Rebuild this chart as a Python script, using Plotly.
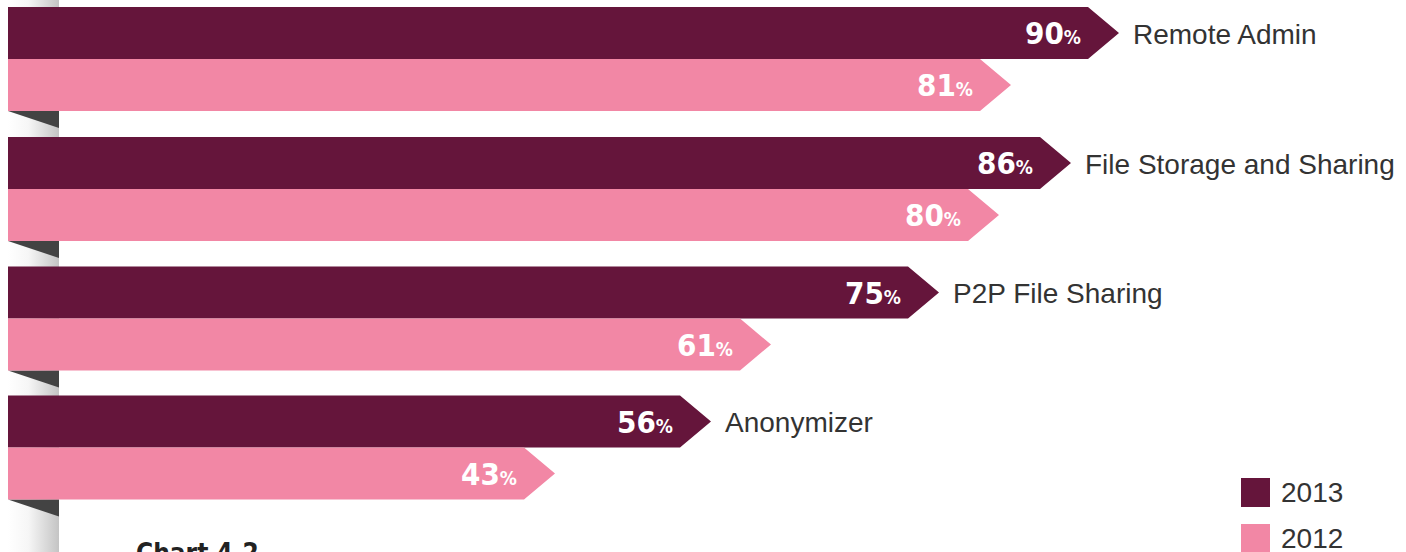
import plotly.graph_objects as go

# Share of organisations using each application type, by year
categories = ["Remote Admin", "File Storage and Sharing", "P2P File Sharing", "Anonymizer"]
years = ["2013", "2012"]
values_2013 = [90, 86, 75, 56]
values_2012 = [81, 80, 61, 43]
series_values = [values_2013, values_2012]
series_colors = ["#65153b", "#f287a5"]
chart_title = "Chart 4-2"

W, H = 1406, 552
PX_PER_UNIT = 12.0          # horizontal pixels per percentage point
X0_PX = 8                   # pixel position of 0 %
BAR_H = 52                  # bar thickness (y axis is in pixels)
GROUP_TOPS = [7, 137, 266.5, 395.5]
TIP = 31 / PX_PER_UNIT      # arrow-head length in data units
STRIP = 51 / PX_PER_UNIT    # width of the folded ribbon strip on the left

x_range = [-X0_PX / PX_PER_UNIT, (W - X0_PX) / PX_PER_UNIT]

cond_font = "Liberation Sans Narrow, DejaVu Sans Condensed, Arial Narrow, sans-serif"
label_font = "Liberation Sans, Arial, Helvetica, sans-serif"

fig = go.Figure()

# grey shaded ribbon behind the bars
fig.add_trace(go.Scatter(
    x=[0, STRIP, STRIP, 0, 0], y=[-10, -10, H + 10, H + 10, -10],
    mode="lines", line=dict(width=0), fill="toself",
    fillgradient=dict(type="horizontal",
                      colorscale=[[0, "#ffffff"], [0.4, "#f6f6f6"], [1, "#c4c4c4"]]),
    hoverinfo="skip", showlegend=False))

# dark folds under each group
fx, fy = [], []
for top in GROUP_TOPS:
    bottom = top + 2 * BAR_H
    fx += [0, STRIP, STRIP, 0, None]
    fy += [bottom, bottom, bottom + 17, bottom, None]
fig.add_trace(go.Scatter(x=fx, y=fy, mode="lines", line=dict(width=0),
                         fill="toself", fillcolor="#434343",
                         hoverinfo="skip", showlegend=False))

# arrow-shaped bars
annotations = []
for s, (name, vals, color) in enumerate(zip(years, series_values, series_colors)):
    xs, ys = [], []
    for i, v in enumerate(vals):
        top = GROUP_TOPS[i] + s * BAR_H
        bot = top + BAR_H
        mid = (top + bot) / 2
        xs += [0, v, v + TIP, v, 0, 0, None]
        ys += [top, top, mid, bot, bot, top, None]
        annotations.append(dict(
            x=v, y=mid, xref="x", yref="y", xanchor="right", yanchor="middle",
            xshift=-5, showarrow=False,
            text=f"<b>{v}<span style='font-size:19px'>%</span></b>",
            font=dict(family=cond_font, size=31, color="white")))
        if s == 0:
            annotations.append(dict(
                x=v + TIP, y=mid + 1, xref="x", yref="y", xanchor="left",
                yanchor="middle", xshift=12, showarrow=False,
                text=categories[i],
                font=dict(family=label_font, size=28, color="#333333")))
    fig.add_trace(go.Scatter(x=xs, y=ys, name=name, mode="lines",
                             line=dict(width=0), fill="toself", fillcolor=color,
                             hoverinfo="skip", showlegend=False))

# legend drawn as swatches + labels
shapes = []
for k, (name, color) in enumerate(zip(years, series_colors)):
    y_top = 478 + 46 * k
    shapes.append(dict(type="rect", xref="paper", yref="y",
                       x0=1241 / W, x1=1270 / W, y0=y_top, y1=y_top + 29,
                       fillcolor=color, line=dict(width=0)))
    annotations.append(dict(x=1280 / W, y=y_top + 14, xref="paper", yref="y",
                            xanchor="left", yanchor="middle", showarrow=False,
                            text=name, borderpad=0,
                            font=dict(family=label_font, size=28, color="#333333")))

annotations.append(dict(x=134 / W, y=536, xref="paper", yref="y",
                        xanchor="left", yanchor="top", showarrow=False,
                        text=f"<b>{chart_title}</b>",
                        font=dict(family=cond_font, size=26, color="#222222")))

fig.update_layout(
    width=W, height=H,
    margin=dict(l=0, r=0, t=0, b=0),
    paper_bgcolor="white", plot_bgcolor="white",
    xaxis=dict(range=x_range, visible=False, fixedrange=True),
    yaxis=dict(range=[H, 0], visible=False, fixedrange=True),
    shapes=shapes, annotations=annotations,
    showlegend=False,
)

fig.write_html("out.html")
